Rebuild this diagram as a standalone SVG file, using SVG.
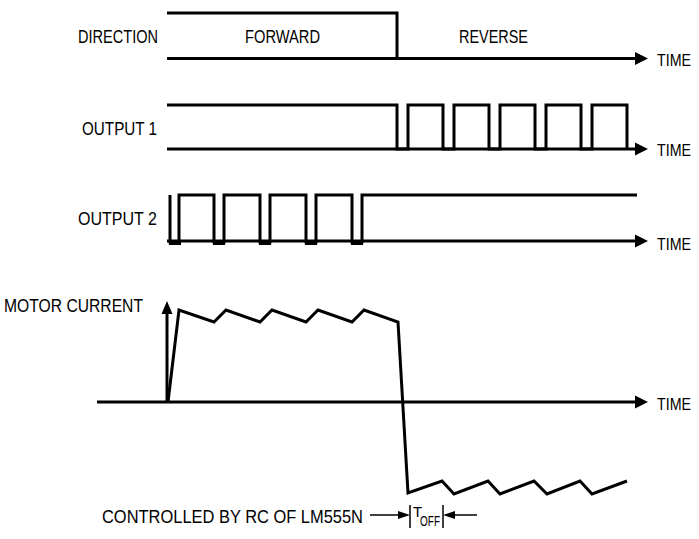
<svg xmlns="http://www.w3.org/2000/svg" width="699" height="539" viewBox="0 0 699 539">
<defs>
<style>
.t{font-family:"Liberation Sans Narrow","Liberation Sans",Arial,sans-serif;font-size:18px;fill:#000}
.tm{font-family:"Liberation Sans Narrow","Liberation Sans",Arial,sans-serif;font-size:17px;fill:#000}
.w{fill:none;stroke:#000;stroke-width:3;stroke-linejoin:miter;stroke-linecap:butt}
.ax{fill:none;stroke:#000;stroke-width:3}
.thin{fill:none;stroke:#000;stroke-width:1.5}
.ah{fill:#000}
</style>
</defs>
<rect width="699" height="539" fill="#fff"/>
<g id="labels">
<text class="t" x="78" y="43" textLength="80" lengthAdjust="spacingAndGlyphs">DIRECTION</text>
<text class="t" x="245" y="43" textLength="75" lengthAdjust="spacingAndGlyphs">FORWARD</text>
<text class="t" x="459" y="43" textLength="69" lengthAdjust="spacingAndGlyphs">REVERSE</text>
<text class="t" x="82" y="135" textLength="75" lengthAdjust="spacingAndGlyphs">OUTPUT 1</text>
<text class="t" x="78" y="225" textLength="79" lengthAdjust="spacingAndGlyphs">OUTPUT 2</text>
<text class="t" x="4" y="312" textLength="139" lengthAdjust="spacingAndGlyphs">MOTOR CURRENT</text>
<text class="tm" x="657" y="66" textLength="34" lengthAdjust="spacingAndGlyphs">TIME</text>
<text class="tm" x="657" y="156" textLength="34" lengthAdjust="spacingAndGlyphs">TIME</text>
<text class="tm" x="657" y="250" textLength="34" lengthAdjust="spacingAndGlyphs">TIME</text>
<text class="tm" x="657" y="410" textLength="34" lengthAdjust="spacingAndGlyphs">TIME</text>
<text class="t" x="102" y="523" textLength="261" lengthAdjust="spacingAndGlyphs">CONTROLLED BY RC OF LM555N</text>
<text class="t" x="413" y="517" style="font-size:15px">T</text>
<text class="t" x="420" y="526" style="font-size:14px" textLength="20" lengthAdjust="spacingAndGlyphs">OFF</text>
</g>
<g id="axes">
<line class="ax" x1="167" y1="58.5" x2="636" y2="58.5"/>
<polygon class="ah" points="635,52 648,58.5 635,65"/>
<line class="ax" x1="167" y1="149" x2="636" y2="149"/>
<polygon class="ah" points="635,142.5 648,149 635,155.5"/>
<line class="ax" x1="167" y1="241" x2="636" y2="241"/>
<polygon class="ah" points="635,234.5 648,241 635,247.5"/>
<line class="ax" x1="97" y1="402" x2="636" y2="402"/>
<polygon class="ah" points="635,395.5 648,402 635,408.5"/>
<line class="ax" x1="167" y1="402" x2="167" y2="312"/>
<polygon class="ah" points="161.5,314 167,301 172.5,314"/>
</g>
<g id="direction">
<polyline class="w" points="167,13 397,13 397,58.5"/>
</g>
<g id="output1">
<polyline class="w" points="167,105 397,105 397,149 408,149 408,105 443,105 443,149 454,149 454,105 489,105 489,149 500,149 500,105 535,105 535,149 546,149 546,105 581,105 581,149 592,149 592,105 627,105 627,149"/>
</g>
<g id="output2">
<polyline class="w" points="170,195 170,242 179,242 179,195 214,195 214,242 224,242 224,195 260,195 260,242 270,242 270,195 306,195 306,242 316,242 316,195 352,195 352,242 362,242 362,195 637,195"/>
<g stroke="#000" stroke-width="5">
<line x1="169" y1="242.5" x2="181" y2="242.5"/>
<line x1="213" y1="242.5" x2="225" y2="242.5"/>
<line x1="259" y1="242.5" x2="271" y2="242.5"/>
<line x1="305" y1="242.5" x2="317" y2="242.5"/>
<line x1="351" y1="242.5" x2="363" y2="242.5"/>
</g>
</g>
<g id="motor-current">
<polyline class="w" points="168,402 179,310 214,322 226,310 260,322 272,310 306,322 318,310 352,322 364,310 398,322 408,493 442,481 454,494 488,481 500,494 534,481 547,494 580,481 592,494 627,481"/>
</g>
<g id="toff">
<line class="thin" x1="410" y1="505" x2="410" y2="528"/>
<line class="thin" x1="443" y1="505" x2="443" y2="528"/>
<line class="thin" x1="370" y1="515" x2="400" y2="515"/>
<polygon class="ah" points="398,511 410,515 398,519"/>
<line class="thin" x1="453" y1="515" x2="477" y2="515"/>
<polygon class="ah" points="455,511 443,515 455,519"/>
</g>
</svg>
